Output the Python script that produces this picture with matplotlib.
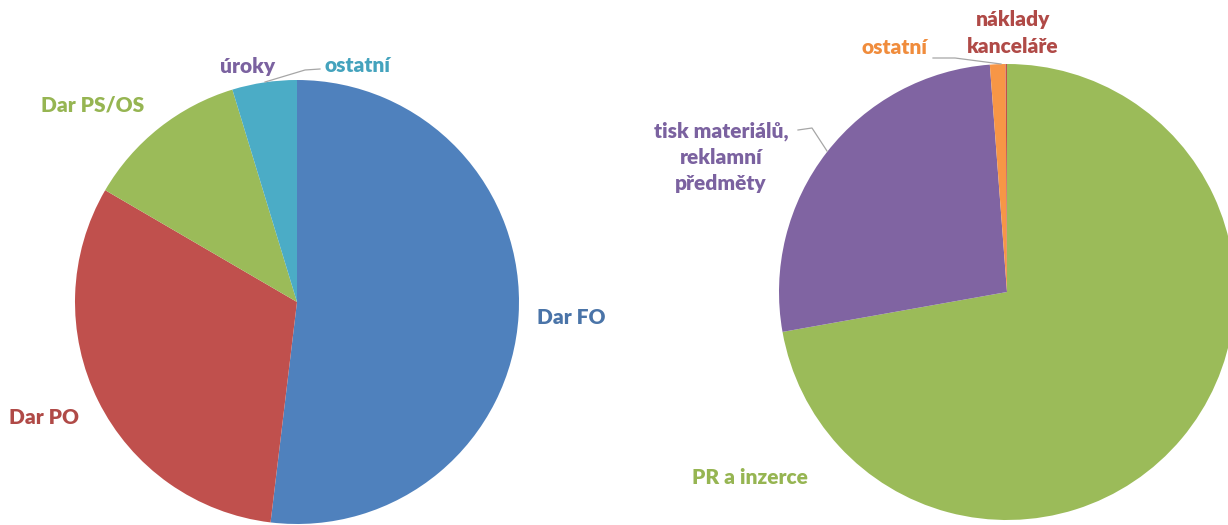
import matplotlib
matplotlib.use("Agg")
import matplotlib.pyplot as plt

# left pie: income
income_labels = ["Dar FO", "Dar PO", "Dar PS/OS", "úroky", "ostatní"]
income_values = [51.9, 31.5, 11.9, 0.0, 4.7]
income_colors = ["#4f81bd", "#c0504d", "#9bbb59", "#8064a2", "#4bacc6"]
income_text_colors = ["#4a74a8", "#b04a47", "#96b552", "#7b62a0", "#44a3bd"]

# right pie: expenses
cost_labels = ["PR a inzerce", "tisk materiálů,\nreklamní\npředměty", "ostatní", "náklady\nkanceláře"]
cost_values = [72.2, 26.6, 1.1, 0.1]
cost_colors = ["#9bbb59", "#8064a2", "#f79646", "#c0504d"]
cost_text_colors = ["#96b552", "#7b62a0", "#f08c3c", "#b04a47"]

plt.rcParams['font.family'] = ['Lato', 'DejaVu Sans']

W, H = 1228, 525
fig = plt.figure(figsize=(W / 100, H / 100), dpi=100)
ax = fig.add_axes([0, 0, 1, 1])

# work in pixel coords with y measured from the top
def P(x, y):
    return (x, H - y)

ax.pie(income_values, colors=income_colors, startangle=90, counterclock=False,
       center=P(297, 302), radius=222, frame=True,
       wedgeprops=dict(linewidth=0))
ax.pie(cost_values, colors=cost_colors, startangle=90, counterclock=False,
       center=P(1007, 292), radius=228, frame=True,
       wedgeprops=dict(linewidth=0))
ax.set_xlim(0, W)
ax.set_ylim(0, H)
ax.set_aspect('equal')
ax.axis('off')

fs = 15
txt = dict(fontsize=fs, fontweight='heavy', ha='center', va='center')

income_pos = [(571, 318), (44, 417), (93, 105), (248, 66), (357, 66)]
for lab, pos, c in zip(income_labels, income_pos, income_text_colors):
    ax.text(*P(*pos), lab, color=c, **txt)

cost_pos = [(750, 477), (721, 157), (894, 47), (1013, 33)]
for lab, pos, c in zip(cost_labels, cost_pos, cost_text_colors):
    ax.text(*P(*pos), lab, color=c, linespacing=1.45, **txt)

# leader lines
lc = dict(color="#a6a6a6", linewidth=0.9)
ax.plot(*zip(P(320, 69), P(305, 70), P(265, 82)), **lc)
ax.plot(*zip(P(933, 58), P(955, 58), P(1001, 64)), **lc)
ax.plot(*zip(P(798, 130), P(812, 128), P(827, 151)), **lc)

fig.savefig("out.png", dpi=100)
